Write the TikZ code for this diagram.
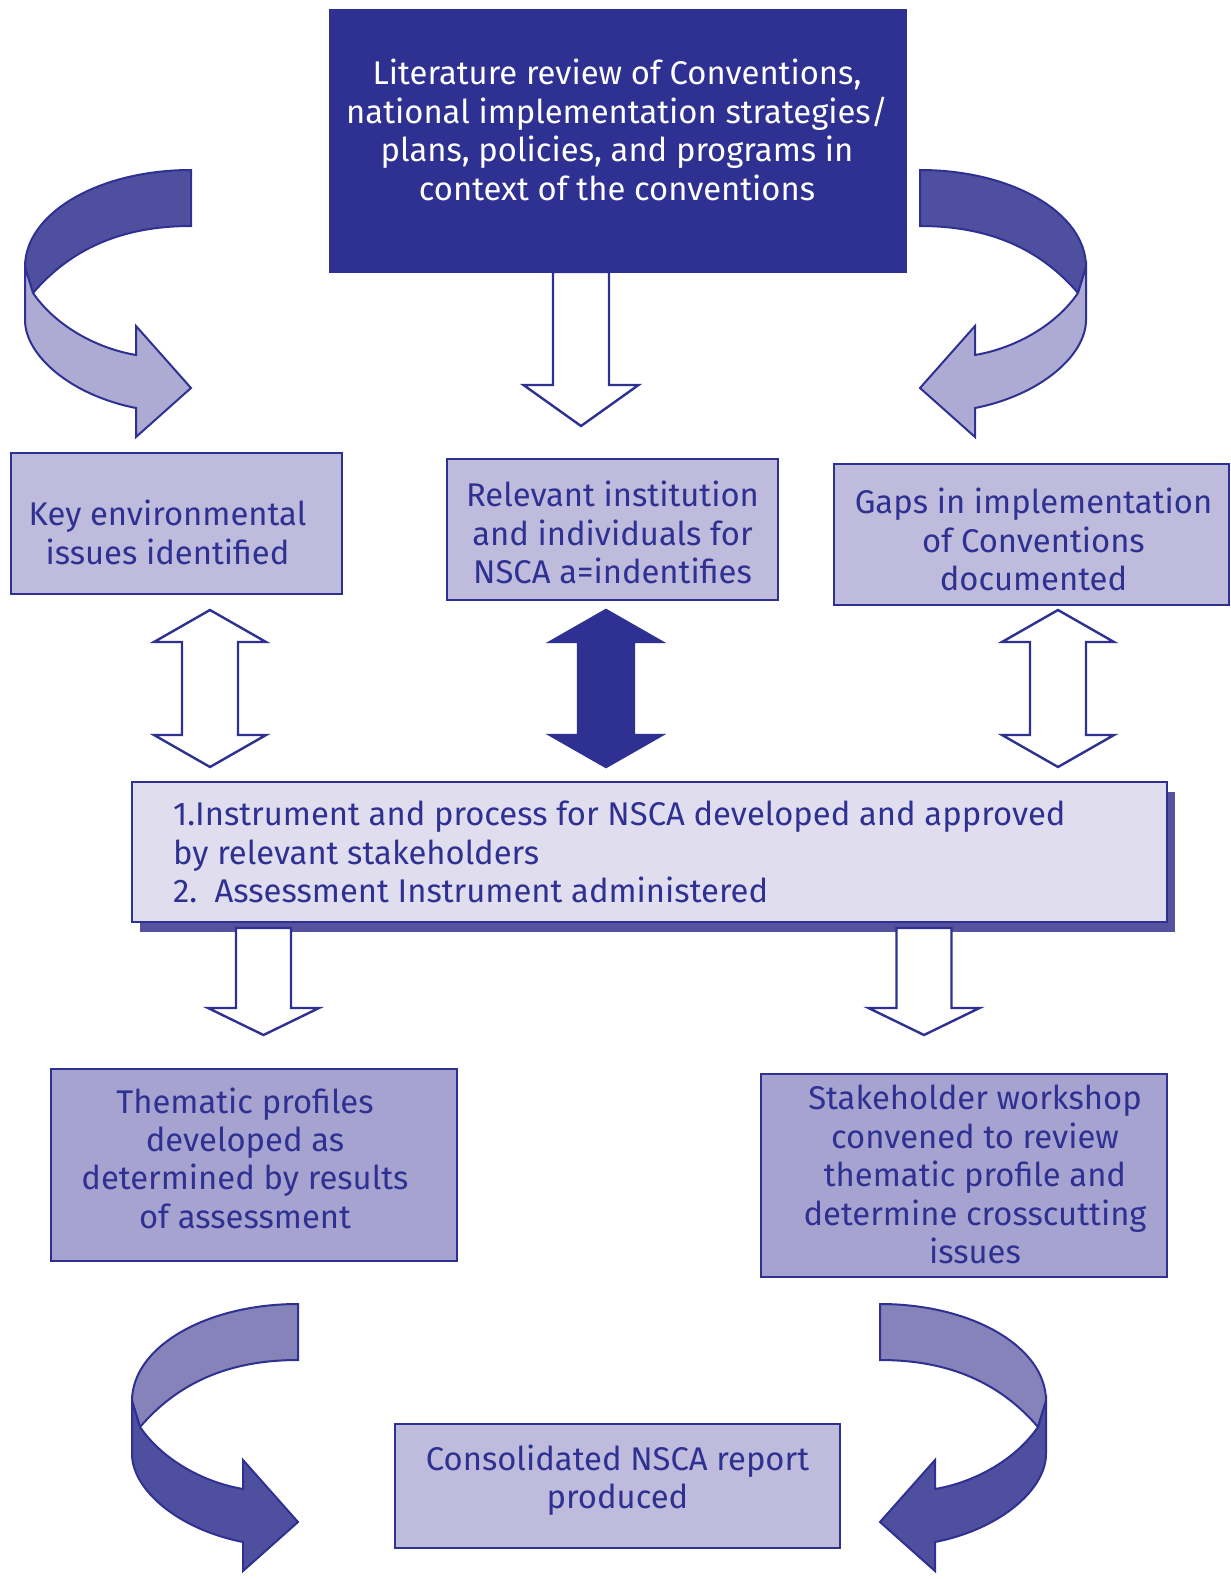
\documentclass[tikz,border=0pt]{standalone}
\usepackage{fontspec}
\setmainfont{Fira Sans}
\usetikzlibrary{shadows}

\definecolor{navy}{HTML}{2E3192}
\definecolor{banddark}{HTML}{4F4FA0}
\definecolor{bandlight}{HTML}{ADABD3}
\definecolor{bandmid}{HTML}{8682BA}
\definecolor{boxlight}{HTML}{BEBBDC}
\definecolor{boxmid}{HTML}{A7A3D0}
\definecolor{boxpale}{HTML}{DFDDEE}
\definecolor{shadowblue}{HTML}{5552A0}

\newcommand{\boxfont}{\fontsize{16.4pt}{19.2pt}\selectfont}

% hollow / filled block arrow pointing down: x, shaft half, head half, top, head base, tip
\newcommand{\downshape}[6]{(#1-#2,#4) -- (#1-#2,#5) -- (#1-#3,#5) -- (#1,#6) -- (#1+#3,#5) -- (#1+#2,#5) -- (#1+#2,#4) -- cycle}
% double block arrow: x, top tip, bottom tip
\newcommand{\updownshape}[3]{(#1,#2) -- (#1+56,#2+32) -- (#1+28,#2+32) -- (#1+28,#3-32) -- (#1+56,#3-32) -- (#1,#3) -- (#1-56,#3-32) -- (#1-28,#3-32) -- (#1-28,#2+32) -- (#1-56,#2+32) -- cycle}
% turning ribbon arrow, drawn for the upper left place
\newcommand{\turnarrow}[3]{%
  \begin{scope}[#1]
    \filldraw[ribbon,fill=#2] (191,170) .. controls (99,170) and (25,213) .. (25,267)
      -- (33,293) .. controls (70,250) and (120,226) .. (191,226) -- cycle;
    \filldraw[ribbon,fill=#3] (25,267) -- (25,320) .. controls (25,355) and (70,395) .. (136,408)
      -- (136,437) -- (191,388) -- (136,326) -- (136,355)
      .. controls (95,348) and (55,325) .. (33,293) -- cycle;
  \end{scope}}

\tikzset{
  box/.style={draw=navy,line width=1.3pt,fill=boxlight,inner sep=0pt},
  boxtext/.style={text=navy,align=center,font=\boxfont,inner sep=0pt},
  blockarrow/.style={draw=navy,line width=1.2pt,fill=white,line join=miter},
  ribbon/.style={draw=navy,line width=1pt,line join=miter},
}

\begin{document}
\begin{tikzpicture}[x=0.5pt,y=-0.5pt]
\useasboundingbox (0,0) rectangle (1231,1579);
%%
\node (lit) at (618,141) [box,fill=navy,minimum width=288pt,minimum height=131pt] {};
\node (env) at (176.5,523.5) [box,minimum width=165.5pt,minimum height=70.5pt] {};
\node (inst) at (612.5,529.5) [box,minimum width=165.5pt,minimum height=70.5pt] {};
\node (gaps) at (1031.5,534.5) [box,minimum width=197.5pt,minimum height=70.5pt] {};
\node (tool) at (649.5,852) [box,fill=boxpale,minimum width=517.5pt,minimum height=70pt,drop shadow={shadow xshift=4pt,shadow yshift=-5pt,fill=shadowblue,opacity=1}] {};
\node (theme) at (254,1165) [box,fill=boxmid,minimum width=203pt,minimum height=96pt] {};
\node (work) at (964,1175.5) [box,fill=boxmid,minimum width=203pt,minimum height=101.5pt] {};
\node (report) at (617.5,1486) [box,minimum width=222.5pt,minimum height=62pt] {};
%
\node (littxt) at ([shift={(-1,-11)}]lit.center) [boxtext,text=white] {Literature review of Conventions,\\national implementation strategies/\\plans, policies, and programs in\\context of the conventions};
\node (envtxt) at ([shift={(-9,9)}]env.center) [boxtext] {Key environmental\\issues identified};
\node (insttxt) at ([shift={(0,3)}]inst.center) [boxtext] {Relevant institution\\and individuals for\\NSCA a=indentifies};
\node (gapstxt) at ([shift={(2,5)}]gaps.center) [boxtext] {Gaps in implementation\\of Conventions\\documented};
\node (tooltxt) at ([shift={(42,0)}]tool.west) [boxtext,anchor=west,align=left] {1.Instrument and process for NSCA developed and approved\\by relevant stakeholders\\2.\ \ Assessment Instrument administered};
\node (themetxt) at ([shift={(-9,-7)}]theme.center) [boxtext] {Thematic profiles\\developed as\\determined by results\\of assessment};
\node (worktxt) at ([shift={(11,-1)}]work.center) [boxtext] {Stakeholder workshop\\convened to review\\thematic profile and\\determine crosscutting\\issues};
\node (reporttxt) at ([shift={(0,-6)}]report.center) [boxtext] {Consolidated NSCA report\\produced};
%
\draw[blockarrow] \downshape{581}{28}{57.5}{272}{385}{426};
\draw[blockarrow] \updownshape{210}{610}{767};
\draw[blockarrow,fill=navy] \updownshape{606}{610}{767};
\draw[blockarrow] \updownshape{1058}{610}{767};
\draw[blockarrow] \downshape{263.5}{27.5}{55.5}{928}{1008}{1035};
\draw[blockarrow] \downshape{924}{27.5}{55.5}{928}{1008}{1035};
%
\turnarrow{}{banddark}{bandlight}
\turnarrow{shift={(1111,0)},xscale=-1}{banddark}{bandlight}
\turnarrow{shift={(107,1134)}}{bandmid}{banddark}
\turnarrow{shift={(1071,1134)},xscale=-1}{bandmid}{banddark}
%
\end{tikzpicture}
\end{document}
